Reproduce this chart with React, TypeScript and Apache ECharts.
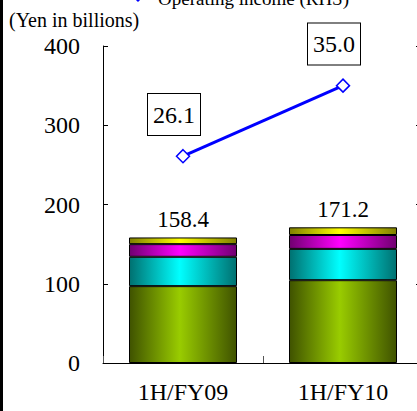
import React, { useEffect, useRef, useState } from "react";
import * as echarts from "echarts";

const categories = ["1H/FY09", "1H/FY10"];
const segGreen = [97, 104.5];
const segCyan = [37, 39.5];
const segMagenta = [16, 17.5];
const segYellow = [8.4, 9.7];
const totals = [158.4, 171.2];
const operatingIncome = [26.1, 35.0];
const leftTicks = [0, 100, 200, 300, 400];
const lineName = "Operating income (RHS)";

const FONT = "Liberation Serif";

function grad(dark: string, bright: string) {
  return new echarts.graphic.LinearGradient(0, 0, 1, 0, [
    { offset: 0, color: dark },
    { offset: 0.47, color: bright },
    { offset: 1, color: dark },
  ]);
}

function buildOption() {
  const barBase = {
    type: "bar" as const,
    stack: "total",
    barWidth: 108,
    yAxisIndex: 0,
  };
  return {
    animation: false,
    textStyle: { fontFamily: FONT, color: "#000" },
    grid: { left: 103, right: 7, top: 46, bottom: 48, containLabel: false },
    graphic: [
      { type: "rect", shape: { x: 0, y: 0, width: 3, height: 411 }, style: { fill: "#000" } },
      {
        type: "text",
        x: 9,
        y: 20,
        style: { text: "(Yen in billions)", fontFamily: FONT, fontSize: 20, fill: "#000", verticalAlign: "middle" },
      },
      {
        type: "line",
        shape: { x1: 118, y1: -5, x2: 158, y2: -5 },
        style: { stroke: "#0000ff", lineWidth: 3 },
      },
      {
        type: "polygon",
        shape: { points: [[138, -11], [144, -5], [138, 1], [132, -5]] },
        style: { fill: "#fff", stroke: "#0000ff", lineWidth: 1.5 },
      },
      {
        type: "text",
        x: 158,
        y: -1.5,
        style: { text: lineName, fontFamily: FONT, fontSize: 19, fill: "#000", verticalAlign: "middle" },
      },
    ],
    xAxis: {
      type: "category",
      data: categories,
      boundaryGap: true,
      axisLine: { show: true, lineStyle: { color: "#000", width: 1 } },
      axisTick: { show: true, inside: true, length: 7, alignWithLabel: false, lineStyle: { color: "#555" } },
      axisLabel: { fontSize: 24, color: "#000", margin: 17 },
      splitLine: { show: false },
    },
    yAxis: [
      {
        type: "value",
        min: 0,
        max: 400,
        interval: 100,
        axisLine: { show: true, lineStyle: { color: "#000", width: 1 } },
        axisTick: { show: true, inside: true, length: 5, lineStyle: { color: "#000" } },
        axisLabel: {
          fontSize: 24,
          color: "#000",
          margin: 23,
          formatter: (v: number) => (leftTicks.includes(v) ? String(v) : ""),
        },
        splitLine: { show: false },
      },
      {
        type: "value",
        position: "right",
        min: 0,
        max: 40,
        interval: 10,
        axisLine: { show: false },
        axisTick: { show: true, inside: true, length: 7, lineStyle: { color: "#000" } },
        axisLabel: { show: false },
        splitLine: { show: false },
      },
    ],
    series: [
      { ...barBase, name: "Segment 1", data: segGreen, itemStyle: { color: grad("#3f5200", "#99cc00"), borderColor: "#000", borderWidth: 1 } },
      { ...barBase, name: "Segment 2", data: segCyan, itemStyle: { color: grad("#007070", "#00ffff"), borderColor: "#000", borderWidth: 1 } },
      { ...barBase, name: "Segment 3", data: segMagenta, itemStyle: { color: grad("#700070", "#ff00ff"), borderColor: "#000", borderWidth: 1 } },
      {
        ...barBase,
        name: "Segment 4",
        data: segYellow,
        itemStyle: { color: grad("#808000", "#ffff00"), borderColor: "#000", borderWidth: 1 },
        label: {
          show: true,
          position: "top",
          distance: 6,
          fontSize: 23,
          color: "#000",
          formatter: (p: any) => totals[p.dataIndex].toFixed(1),
        },
      },
      {
        type: "line",
        name: lineName,
        yAxisIndex: 1,
        data: operatingIncome,
        z: 10,
        symbol: "diamond",
        symbolSize: 13,
        lineStyle: { color: "#0000ff", width: 3 },
        itemStyle: { color: "#ffffff", borderColor: "#0000ff", borderWidth: 1.5 },
        label: {
          show: true,
          position: "top",
          distance: 14,
          offset: [-9, 0],
          fontSize: 24,
          color: "#000",
          backgroundColor: "#fff",
          borderColor: "#000",
          borderWidth: 1,
          padding: [9, 5, 8, 5],
          formatter: (p: any) => Number(p.value).toFixed(1),
        },
      },
    ],
  };
}

export default function App() {
  const ref = useRef<HTMLDivElement>(null);
  const [, setReady] = useState(false);
  useEffect(() => {
    if (!ref.current) return;
    const chart = echarts.init(ref.current, undefined, { renderer: "svg" });
    chart.setOption(buildOption());
    const t = setTimeout(() => {
      chart.setOption(buildOption(), true);
      setReady(true);
    }, 100);
    return () => {
      clearTimeout(t);
      chart.dispose();
    };
  }, []);
  return (
    <div style={{ position: "fixed", left: 0, top: 0, width: 417, height: 411, overflow: "hidden", background: "#fff" }}>
      <div ref={ref} style={{ width: 430, height: 411 }} />
    </div>
  );
}
